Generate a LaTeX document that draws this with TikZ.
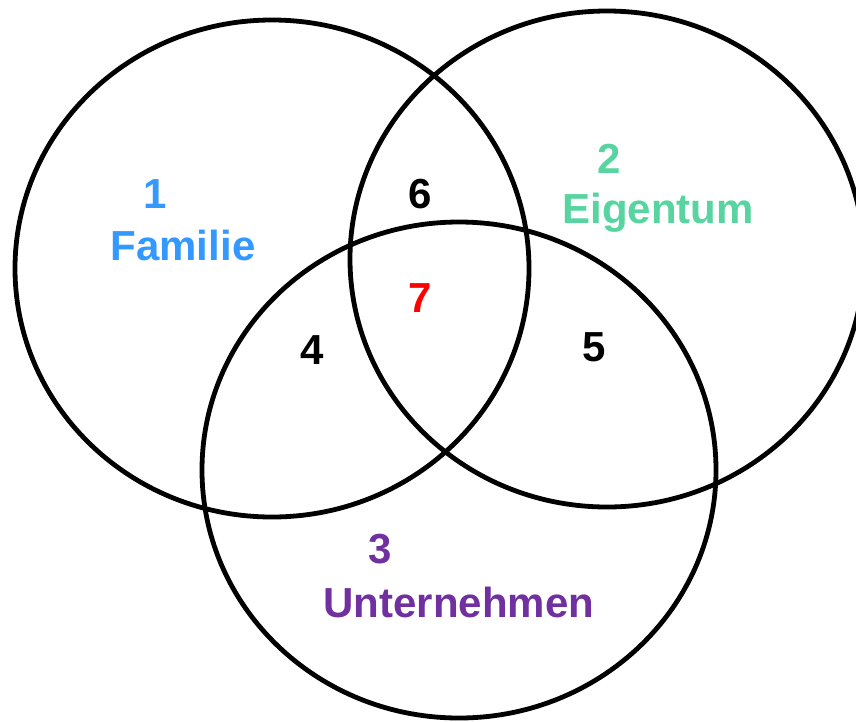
\documentclass[tikz,border=0pt]{standalone}
\usepackage{fontspec}
\setmainfont{Liberation Sans}
\definecolor{cblue}{RGB}{51,153,255}
\definecolor{cgreen}{RGB}{88,212,160}
\definecolor{cpurple}{RGB}{112,48,160}
\definecolor{cred}{RGB}{255,0,0}
\begin{document}
\begin{tikzpicture}[x=1pt,y=-1pt,
  setring/.style={draw=black,line width=4.8pt},
  lbl/.style={anchor=base,inner sep=0pt,font=\fontsize{42}{50}\selectfont\bfseries}]
\useasboundingbox (0,0) rectangle (856,721);
\begin{scope}
\clip (0,0) rectangle (856,721);
\draw[setring] (272,268.5) ellipse [x radius=257, y radius=-248.5];
\draw[setring] (607,259) ellipse [x radius=257, y radius=-248];
\draw[setring] (459,470) ellipse [x radius=257, y radius=-248];
\end{scope}
\node[lbl,text=cblue] (n1) at (155,208) {1};
\node[lbl,text=cblue] (fam) at (183,260) {Familie};
\node[lbl,text=cgreen] (n2) at (609,173) {2};
\node[lbl,text=cgreen] (eig) at (658,223) {Eigentum};
\node[lbl,text=cpurple] (n3) at (380,563) {3};
\node[lbl,text=cpurple] (unt) at (459,617) {Unternehmen};
\node[lbl] (n6) at (420,208) {6};
\node[lbl,text=cred] (n7) at (420,312) {7};
\node[lbl] (n4) at (312,364) {4};
\node[lbl] (n5) at (594,361) {5};
\end{tikzpicture}
\end{document}
